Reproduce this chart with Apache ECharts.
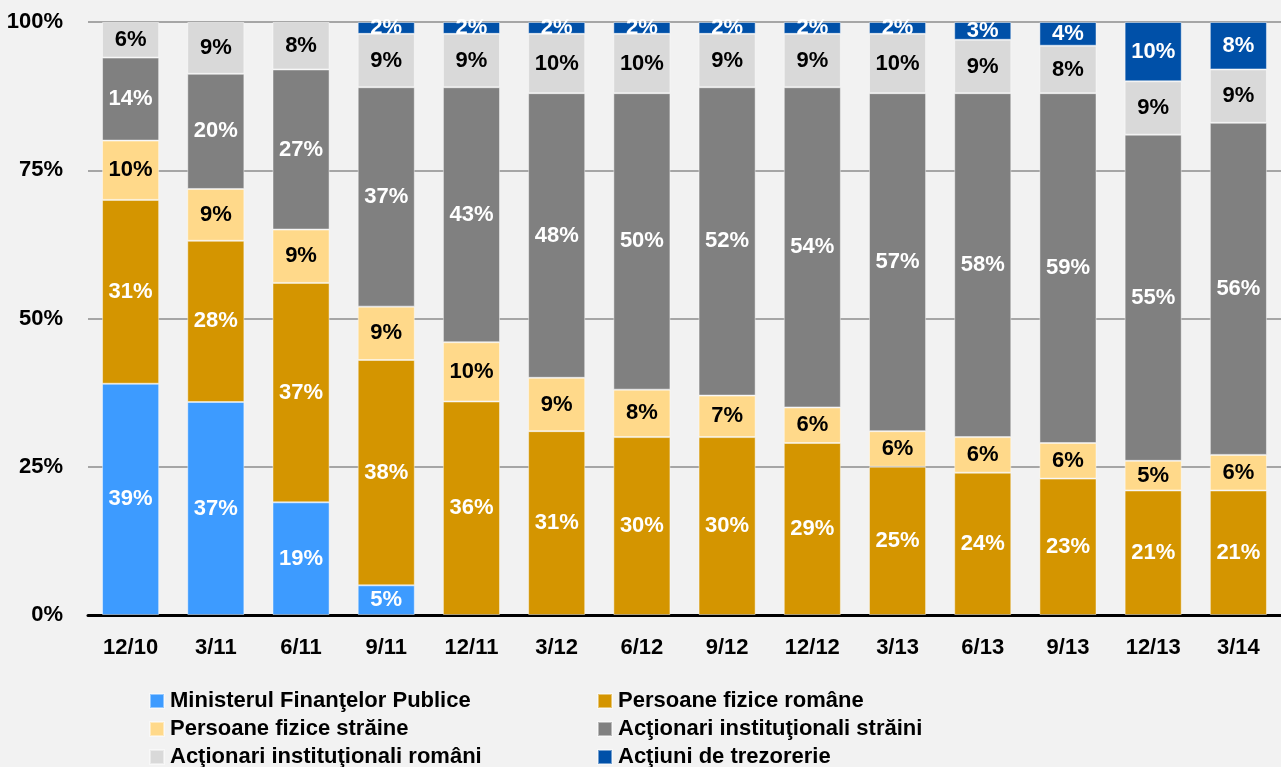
<!DOCTYPE html>
<html><head><meta charset="utf-8">
<script src="https://cdn.jsdelivr.net/npm/echarts@6/dist/echarts.min.js"></script>
<style>html,body{margin:0;padding:0;background:#f2f2f2}#c{width:1281px;height:767px}</style>
</head><body><div id="c"></div>
<script>
const categories = ['12/10','3/11','6/11','9/11','12/11','3/12','6/12','9/12','12/12','3/13','6/13','9/13','12/13','3/14'];
const seriesNames = ['Ministerul Finanţelor Publice','Persoane fizice române','Persoane fizice străine','Acţionari instituţionali străini','Acţionari instituţionali români','Acţiuni de trezorerie'];
const ministerulFinantelorPublice = [39,37,19,5,0,0,0,0,0,0,0,0,0,0];
const persoaneFiziceRomane       = [31,28,37,38,36,31,30,30,29,25,24,23,21,21];
const persoaneFiziceStraine      = [10,9,9,9,10,9,8,7,6,6,6,6,5,6];
const actionariInstStraini       = [14,20,27,37,43,48,50,52,54,57,58,59,55,56];
const actionariInstRomani        = [6,9,8,9,9,10,10,9,9,10,9,8,9,9];
const actiuniTrezorerie          = [0,0,0,2,2,2,2,2,2,2,3,4,10,8];
const yTicks = [0,25,50,75,100];

const raw = [ministerulFinantelorPublice, persoaneFiziceRomane, persoaneFiziceStraine, actionariInstStraini, actionariInstRomani, actiuniTrezorerie];
const colors = ['#3d9bff','#d49500','#ffd98a','#808080','#d9d9d9','#0050a8'];
const labelColors = ['#fff','#fff','#000','#fff','#000','#fff'];
const totals = categories.map((_, i) => raw.reduce((s, a) => s + a[i], 0));
const FONT = '"Liberation Sans Narrow","Arial Narrow","Liberation Sans",Arial,sans-serif';
const FS = 22;

const series = raw.map((arr, k) => ({
  name: seriesNames[k],
  type: 'bar',
  stack: 'total',
  barWidth: '67%',
  data: arr.map((v, i) => v > 0 ? { value: v / totals[i] * 100, raw: v } : null),
  itemStyle: { color: colors[k], borderColor: 'rgba(255,255,255,0.45)', borderWidth: 1 },
  label: {
    show: true, position: 'inside', color: labelColors[k],
    fontFamily: FONT, fontWeight: 'bold', fontSize: FS,
    formatter: p => p.data ? p.data.raw + '%' : ''
  },
  emphasis: { disabled: true }
}));

// legend order: column 1 (MFP, PFS, AIR), column 2 (PFR, AIS, AT)
const legendPos = [[149, 0], [597, 0], [149, 1], [597, 1], [149, 2], [597, 2]];
const legends = seriesNames.map((n, k) => ({
  data: [n], left: legendPos[k][0], top: 690 + legendPos[k][1] * 28, padding: 0,
  itemWidth: 14, itemHeight: 14, itemGap: 0, icon: 'rect', selectedMode: false,
  textStyle: { fontFamily: FONT, fontWeight: 'bold', fontSize: FS, color: '#000', lineHeight: 22, padding: [0, 0, 0, 1] }
}));

const chart = echarts.init(document.getElementById('c'), null, { renderer: 'canvas' });
chart.setOption({
  backgroundColor: '#f2f2f2',
  animation: false,
  textStyle: { fontFamily: FONT },
  grid: { left: 88, right: -13, top: 22, bottom: 152, containLabel: false },
  legend: legends,
  xAxis: {
    type: 'category', data: categories,
    axisLine: { lineStyle: { color: '#000', width: 3 } },
    axisTick: { show: false },
    axisLabel: { color: '#000', fontFamily: FONT, fontWeight: 'bold', fontSize: FS, margin: 22 }
  },
  yAxis: {
    type: 'value', min: yTicks[0], max: yTicks[yTicks.length - 1], interval: 25,
    axisLine: { show: false }, axisTick: { show: false },
    axisLabel: { color: '#000', fontFamily: FONT, fontWeight: 'bold', fontSize: FS, margin: 25, formatter: '{value}%' },
    splitLine: { lineStyle: { color: '#a6a6a6', width: 2 } }
  },
  series
});
</script></body></html>
